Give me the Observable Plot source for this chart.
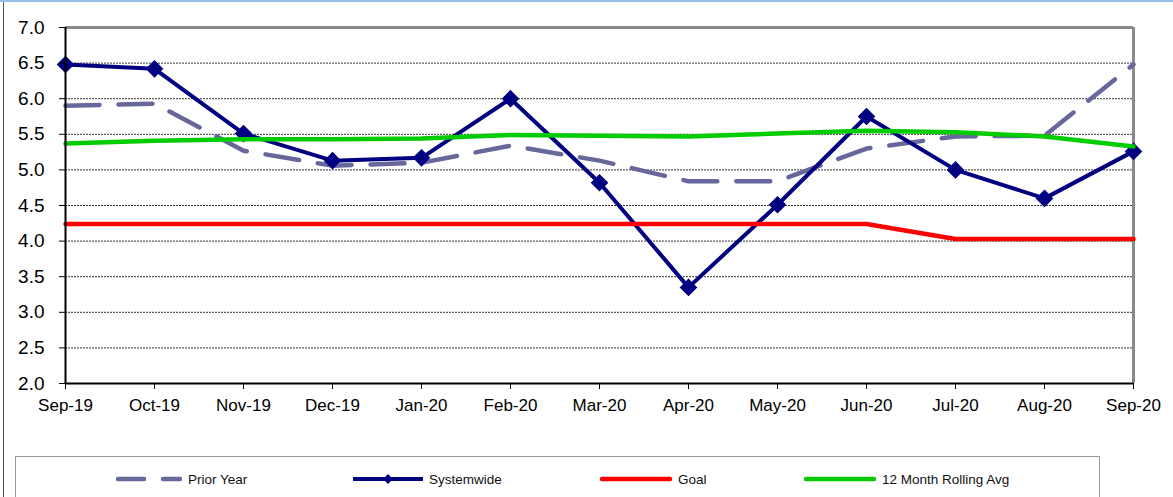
<!DOCTYPE html>
<html>
<head>
<meta charset="utf-8">
<script src="https://cdn.jsdelivr.net/npm/d3@7"></script>
<script src="https://cdn.jsdelivr.net/npm/@observablehq/plot@0.6"></script>
<style>
  html, body { margin: 0; padding: 0; background: #fff; }
  #wrap { position: relative; width: 1173px; height: 497px; overflow: hidden; font-family: "Liberation Sans", Arial, sans-serif; }
  #topline { position: absolute; left: 0; top: 0; width: 1173px; height: 2px; background: #95bfe8; }
  #leftline { position: absolute; left: 3px; top: 2px; width: 1px; height: 495px; background: #555; }
  #chart { position: absolute; left: 0; top: 0; }
  #legend { position: absolute; left: 15px; top: 456px; width: 1083px; height: 60px; border: 1px solid #999; background: #fff; }
  .item { position: absolute; top: 13px; height: 18px; display: flex; align-items: center; font-size: 13.5px; color: #111; }
  .item svg { margin-right: 6px; }
</style>
</head>
<body>
<div id="wrap">
  <div id="topline"></div>
  <div id="leftline"></div>
  <div id="chart"></div>
  <div id="legend"></div>
</div>
<script>
const months = ["Sep-19","Oct-19","Nov-19","Dec-19","Jan-20","Feb-20","Mar-20","Apr-20","May-20","Jun-20","Jul-20","Aug-20","Sep-20"];
const priorYear = [5.90, 5.93, 5.27, 5.06, 5.10, 5.34, 5.13, 4.84, 4.84, 5.30, 5.47, 5.48, 6.48];
const systemwide = [6.48, 6.42, 5.51, 5.13, 5.17, 6.00, 4.82, 3.35, 4.51, 5.75, 5.00, 4.60, 5.26];
const goal = [4.24, 4.24, 4.24, 4.24, 4.24, 4.24, 4.24, 4.24, 4.24, 4.24, 4.03, 4.03, 4.03];
const rollingAvg = [5.37, 5.41, 5.43, 5.43, 5.44, 5.49, 5.48, 5.47, 5.51, 5.55, 5.53, 5.47, 5.33];
const yTicks = [2.0, 2.5, 3.0, 3.5, 4.0, 4.5, 5.0, 5.5, 6.0, 6.5, 7.0];
const gridTicks = [2.5, 3.0, 3.5, 4.0, 4.5, 5.0, 5.5, 6.0, 6.5];
const seriesNames = ["Prior Year", "Systemwide", "Goal", "12 Month Rolling Avg"];

const rows = (vals) => months.map((m, i) => ({month: m, value: vals[i]}));

const chart = Plot.plot({
  width: 1173,
  height: 440,
  marginLeft: 65,
  marginRight: 40,
  marginTop: 27,
  marginBottom: 57,
  style: {fontFamily: "'Liberation Sans', Arial, sans-serif", background: "transparent", color: "#000"},
  x: {type: "point", domain: months, padding: 0},
  y: {domain: [2, 7]},
  marks: [
    Plot.ruleY(gridTicks, {stroke: "#000", strokeWidth: 1, strokeDasharray: "2,1", strokeOpacity: 0.8}),
    Plot.ruleY([7], {stroke: "#8a8a8a", strokeWidth: 3}),
    Plot.ruleX([months[months.length - 1]], {stroke: "#8a8a8a", strokeWidth: 3}),
    Plot.line(rows(priorYear), {x: "month", y: "value", stroke: "#67679c", strokeWidth: 4.5, strokeDasharray: "34,19", strokeLinecap: "round"}),
    Plot.line(rows(systemwide), {x: "month", y: "value", stroke: "#000080", strokeWidth: 4}),
    Plot.dot(rows(systemwide), {x: "month", y: "value", symbol: "diamond2", r: 7, fill: "#000080", stroke: "#000080"}),
    Plot.line(rows(goal), {x: "month", y: "value", stroke: "#ff0000", strokeWidth: 4.5}),
    Plot.line(rows(rollingAvg), {x: "month", y: "value", stroke: "#00cc00", strokeWidth: 4.5}),
    Plot.ruleX([months[0]], {stroke: "#000", strokeWidth: 2}),
    Plot.ruleY([2], {stroke: "#000", strokeWidth: 2}),
    Plot.axisY({ticks: yTicks, tickFormat: d3.format(".1f"), tickSize: 6, tickPadding: 15, fontSize: 19, label: null, stroke: "#000", color: "#000"}),
    Plot.axisX({tickSize: 6, tickPadding: 9, fontSize: 17, label: null, stroke: "#000", color: "#000"})
  ]
});
document.getElementById("chart").appendChild(chart);

// Legend
const legend = document.getElementById("legend");
const items = [
  {name: seriesNames[0], left: 100, draw: `<line x1="2" y1="9" x2="28" y2="9" stroke="#67679c" stroke-width="4.5" stroke-linecap="round"/><line x1="47" y1="9" x2="64" y2="9" stroke="#67679c" stroke-width="4.5" stroke-linecap="round"/>`, w: 66},
  {name: seriesNames[1], left: 337, draw: `<line x1="0" y1="9" x2="70" y2="9" stroke="#000080" stroke-width="4"/><path d="M35 4 L40 9 L35 14 L30 9 Z" fill="#000080"/>`, w: 70},
  {name: seriesNames[2], left: 584, draw: `<line x1="2" y1="9" x2="70" y2="9" stroke="#ff0000" stroke-width="4.5" stroke-linecap="round"/>`, w: 72},
  {name: seriesNames[3], left: 788, draw: `<line x1="2" y1="9" x2="70" y2="9" stroke="#00cc00" stroke-width="4.5" stroke-linecap="round"/>`, w: 72}
];
for (const it of items) {
  const d = document.createElement("div");
  d.className = "item";
  d.style.left = it.left + "px";
  d.innerHTML = `<svg width="${it.w}" height="18">${it.draw}</svg><span>${it.name}</span>`;
  legend.appendChild(d);
}
</script>
</body>
</html>
